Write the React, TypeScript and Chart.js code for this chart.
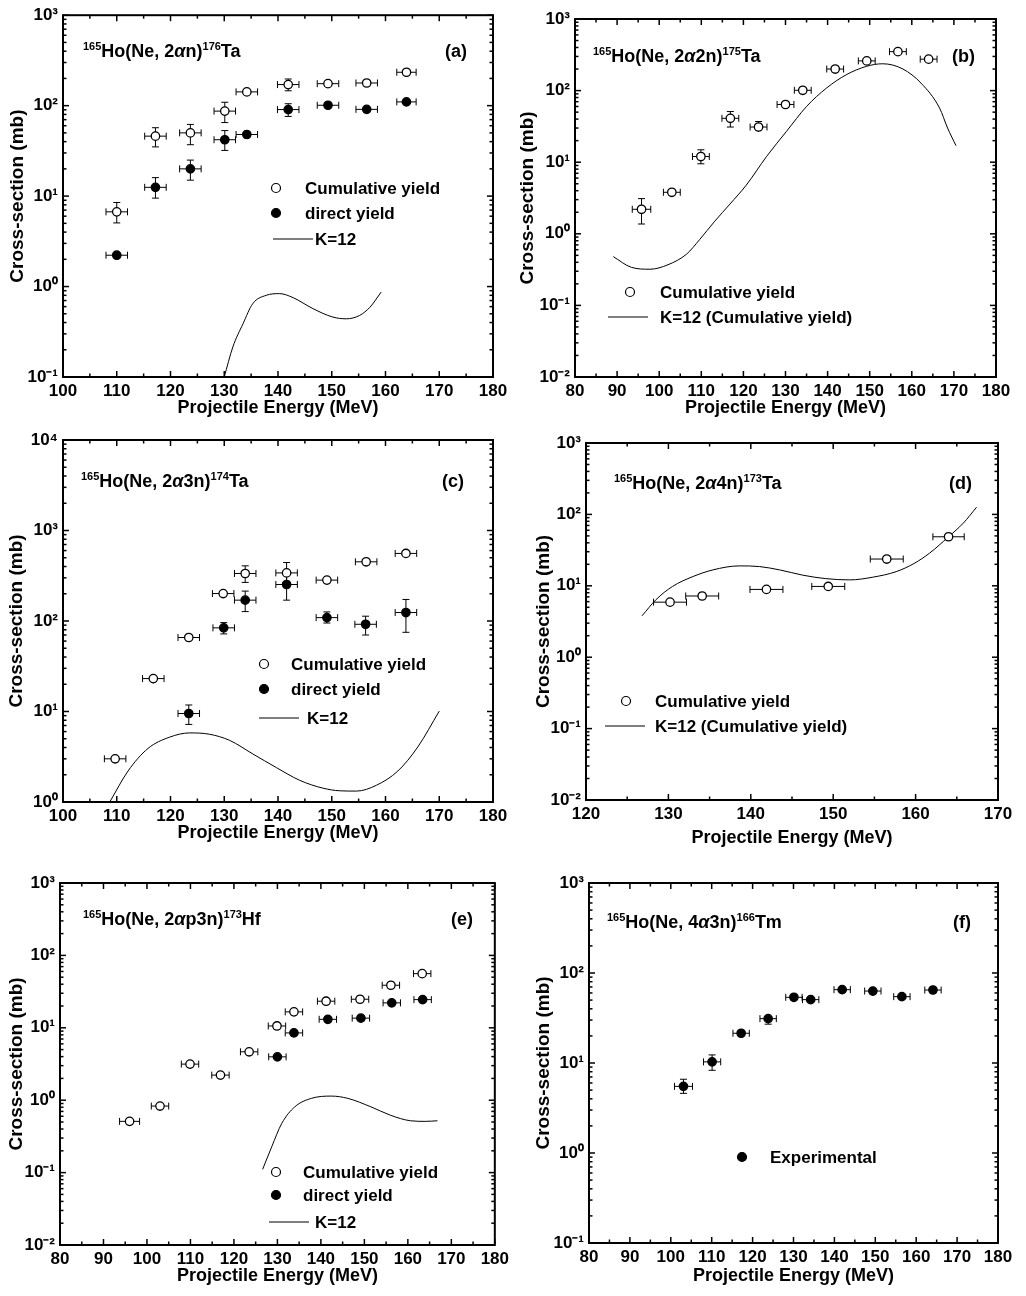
import React, { useEffect, useRef } from 'react';
import { Chart, registerables } from 'chart.js';

Chart.register(...registerables);

const FONT = "'Liberation Sans', Arial, Helvetica, sans-serif";

// ---------------- texts ----------------
const X_TITLE = 'Projectile Energy (MeV)';
const Y_TITLE = 'Cross-section (mb)';
const LBL_CUM = 'Cumulative yield';
const LBL_DIR = 'direct yield';
const LBL_K12 = 'K=12';
const LBL_K12C = 'K=12 (Cumulative yield)';
const LBL_EXP = 'Experimental';

// ---------------- data: panel (a) 165Ho(Ne,2αn)176Ta ----------------
const aCumE = [110, 117.2, 123.7, 130.1, 134.2, 141.9, 149.3, 156.5, 163.9];
const aCumV = [6.7, 46, 50, 87, 142, 171, 175, 178, 234];
const aCumLo = [5.05, 35, 37, 65, 135, 146, 166, 169, 222];
const aCumHi = [8.5, 57, 62, 109, 150, 197, 185, 188, 246];
const aCumXe = [2, 2, 2, 2, 2, 2, 2, 2, 1.8];
const aDirE = [110, 117.2, 123.7, 130.1, 134.2, 141.9, 149.3, 156.5, 163.9];
const aDirV = [2.22, 12.5, 20, 42, 48, 90.5, 101, 91, 110];
const aDirLo = [2.1, 9.5, 15, 32, 45, 76, 95, 85, 104];
const aDirHi = [2.35, 16, 25, 53, 51, 105, 107, 97, 116];
const aDirXe = [2, 2, 2, 2, 2, 2, 2, 2, 1.8];
const aCurveE = [130.0, 131.6, 133.5, 135.3, 137.8, 140.3, 142.8, 146.5, 150.2, 152.7, 155.2, 157.1, 159.2];
const aCurveV = [0.1, 0.215, 0.389, 0.647, 0.8, 0.835, 0.754, 0.57, 0.46, 0.44, 0.48, 0.59, 0.87];

// ---------------- data: panel (b) 165Ho(Ne,2α2n)175Ta ----------------
const bCumE = [95.8, 103.0, 109.9, 116.9, 123.6, 130.0, 134.1, 141.8, 149.3, 156.7, 164.0];
const bCumV = [2.2, 3.8, 12, 41, 31, 64, 101, 200, 260, 350, 275];
const bCumLo = [1.37, 3.4, 9.5, 31, 26.6, 58, 93, 188, 246, 332, 260];
const bCumHi = [3.1, 4.2, 14.9, 51, 37, 71, 110, 212, 275, 370, 290];
const bCumXe = [2.2, 2, 2, 2, 2, 2, 2, 2, 2, 2, 2];
const bCurveE = [89.1, 93.4, 97.8, 102.1, 106.5, 109.6, 113.2, 116.8, 120.7, 125.5, 130.2, 135, 139.7, 144.4, 149.2, 153.1, 157.9, 162.2, 166.6, 168.5, 170.5];
const bCurveV = [0.48, 0.34, 0.32, 0.37, 0.52, 0.83, 1.5, 2.6, 4.8, 12, 26.8, 60, 108, 166, 218, 237, 200, 127, 57, 30, 17];

// ---------------- data: panel (c) 165Ho(Ne,2α3n)174Ta ----------------
const cCumE = [109.7, 116.8, 123.4, 129.8, 133.9, 141.6, 149.1, 156.4, 163.8];
const cCumV = [3.0, 23.1, 65.7, 201, 335, 340, 283, 451, 558];
const cCumLo = [2.7, 20.5, 60, 185, 267, 270, 260, 410, 510];
const cCumHi = [3.3, 25.8, 72, 218, 407, 443, 305, 495, 610];
const cCumXe = [2, 2, 2, 2, 2, 2, 2, 2, 2];
const cDirE = [123.4, 129.9, 133.9, 141.6, 149.1, 156.3, 163.8];
const cDirV = [9.5, 84, 170, 253, 109, 92, 124];
const cDirLo = [7.2, 72, 127, 170, 95, 70, 75];
const cDirHi = [11.8, 96, 214, 340, 126, 113, 173];
const cDirXe = [2, 2, 2, 2, 2, 2, 2];
const cCurveE = [108.7, 112.1, 115.8, 119.8, 123.6, 127.3, 131, 135.3, 139.7, 144, 148.4, 151.5, 154.6, 158.3, 162.3, 166, 170];
const cCurveV = [1.0, 2.2, 3.9, 5.2, 5.8, 5.6, 4.8, 3.4, 2.4, 1.74, 1.42, 1.33, 1.32, 1.53, 2.2, 4.05, 10.1];

// ---------------- data: panel (d) 165Ho(Ne,2α4n)173Ta ----------------
const dCumE = [130.2, 134.1, 141.9, 149.4, 156.5, 164.0];
const dCumV = [5.9, 7.2, 8.9, 9.8, 23.7, 48.6];
const dCumLo = [5.5, 6.7, 8.3, 9.2, 22, 45];
const dCumHi = [6.3, 7.7, 9.5, 10.4, 25.5, 52];
const dCumXe = [2, 2, 2, 2, 2, 1.9];
const dCurveE = [126.8, 128.5, 130.5, 133, 135.4, 138.6, 141.05, 143.5, 146.3, 149.1, 152, 154.8, 157.65, 159.8, 161.7, 164, 165.8, 167.4];
const dCurveV = [3.8, 6.4, 9.8, 13.5, 16.7, 19, 18.6, 16.7, 14.1, 12.6, 12.1, 13.2, 15.8, 20.5, 28.7, 48.6, 75.7, 126];

// ---------------- data: panel (e) 165Ho(Ne,2αp3n)173Hf ----------------
const eCumE = [96.0, 103.0, 109.9, 116.9, 123.5, 129.9, 133.8, 141.2, 149.0, 156.1, 163.3];
const eCumV = [0.51, 0.83, 3.15, 2.22, 4.66, 10.6, 16.6, 23.3, 24.8, 38.7, 56];
const eCumLo = [0.48, 0.78, 2.95, 2.08, 4.38, 9.9, 15.6, 21.9, 23.3, 36.4, 52.6];
const eCumHi = [0.54, 0.88, 3.35, 2.36, 4.94, 11.3, 17.6, 24.7, 26.3, 41, 59.4];
const eCumXe = [2.3, 2, 2, 2, 2, 2, 2, 2, 2, 2, 2];
const eDirE = [130.0, 133.8, 141.6, 149.2, 156.3, 163.4];
const eDirV = [3.97, 8.5, 13.1, 13.6, 22.1, 24.5];
const eDirLo = [3.73, 8.0, 12.3, 12.8, 20.8, 23];
const eDirHi = [4.21, 9.0, 13.9, 14.4, 23.4, 26];
const eDirXe = [2, 2, 2, 2, 2, 2];
const eCurveE = [126.6, 128.7, 131.0, 134.0, 137.8, 142.4, 146.2, 151.5, 156.0, 160.6, 164.0, 166.8];
const eCurveV = [0.111, 0.228, 0.478, 0.81, 1.06, 1.14, 1.06, 0.81, 0.62, 0.52, 0.51, 0.52];

// ---------------- data: panel (f) 165Ho(Ne,4α3n)166Tm ----------------
const fExpE = [103.1, 110.1, 117.2, 123.8, 130.1, 134.2, 141.9, 149.4, 156.5, 164.1];
const fExpV = [5.5, 10.3, 21.4, 31.1, 53.7, 50.6, 65.3, 63, 54.6, 64.7];
const fExpLo = [4.6, 8.3, 19.8, 27, 49, 46.5, 61, 59, 51, 61];
const fExpHi = [6.6, 12.3, 23.2, 34.6, 59, 55, 70, 67, 58.5, 69];
const fExpXe = [2.2, 2.1, 2, 2, 2, 2, 2, 2, 2, 2];

// ---------------- types ----------------
type Seg = { t: string; sup?: boolean; it?: boolean };
type SeriesDef = { label: string; x: number[]; y: number[]; lo: number[]; hi: number[]; xe: number[]; filled: boolean };
type LegendDef = { kind: 'open' | 'filled' | 'line'; label: string };
type PanelDef = {
  xMin: number; xMax: number; yMin: number; yMax: number;
  title: Seg[]; tag: string;
  series: SeriesDef[];
  curve?: { x: number[]; y: number[] };
  legend: LegendDef[];
};
type LayoutDef = {
  cx: number; cy: number; w: number; h: number;
  l: number; t: number; r: number; b: number;
  yTitleX: number; xTitleY: number;
  titleX: number; titleY: number; tagX: number;
  legend: { sx: number; sy: number; tx: number }[];
};

const titleOf = (reac: string[], mass: string, el: string): Seg[] => [
  { t: '165', sup: true },
  { t: 'Ho(Ne, ' + reac[0] },
  { t: '\u03B1', it: true },
  { t: reac[1] + ')' },
  { t: mass, sup: true },
  { t: el },
];

const PANELS: PanelDef[] = [
  {
    xMin: 100, xMax: 180, yMin: 0.1, yMax: 1000,
    title: titleOf(['2', 'n'], '176', 'Ta'), tag: '(a)',
    series: [
      { label: LBL_CUM, x: aCumE, y: aCumV, lo: aCumLo, hi: aCumHi, xe: aCumXe, filled: false },
      { label: LBL_DIR, x: aDirE, y: aDirV, lo: aDirLo, hi: aDirHi, xe: aDirXe, filled: true },
    ],
    curve: { x: aCurveE, y: aCurveV },
    legend: [{ kind: 'open', label: LBL_CUM }, { kind: 'filled', label: LBL_DIR }, { kind: 'line', label: LBL_K12 }],
  },
  {
    xMin: 80, xMax: 180, yMin: 0.01, yMax: 1000,
    title: titleOf(['2', '2n'], '175', 'Ta'), tag: '(b)',
    series: [{ label: LBL_CUM, x: bCumE, y: bCumV, lo: bCumLo, hi: bCumHi, xe: bCumXe, filled: false }],
    curve: { x: bCurveE, y: bCurveV },
    legend: [{ kind: 'open', label: LBL_CUM }, { kind: 'line', label: LBL_K12C }],
  },
  {
    xMin: 100, xMax: 180, yMin: 1, yMax: 10000,
    title: titleOf(['2', '3n'], '174', 'Ta'), tag: '(c)',
    series: [
      { label: LBL_CUM, x: cCumE, y: cCumV, lo: cCumLo, hi: cCumHi, xe: cCumXe, filled: false },
      { label: LBL_DIR, x: cDirE, y: cDirV, lo: cDirLo, hi: cDirHi, xe: cDirXe, filled: true },
    ],
    curve: { x: cCurveE, y: cCurveV },
    legend: [{ kind: 'open', label: LBL_CUM }, { kind: 'filled', label: LBL_DIR }, { kind: 'line', label: LBL_K12 }],
  },
  {
    xMin: 120, xMax: 170, yMin: 0.01, yMax: 1000,
    title: titleOf(['2', '4n'], '173', 'Ta'), tag: '(d)',
    series: [{ label: LBL_CUM, x: dCumE, y: dCumV, lo: dCumLo, hi: dCumHi, xe: dCumXe, filled: false }],
    curve: { x: dCurveE, y: dCurveV },
    legend: [{ kind: 'open', label: LBL_CUM }, { kind: 'line', label: LBL_K12C }],
  },
  {
    xMin: 80, xMax: 180, yMin: 0.01, yMax: 1000,
    title: titleOf(['2', 'p3n'], '173', 'Hf'), tag: '(e)',
    series: [
      { label: LBL_CUM, x: eCumE, y: eCumV, lo: eCumLo, hi: eCumHi, xe: eCumXe, filled: false },
      { label: LBL_DIR, x: eDirE, y: eDirV, lo: eDirLo, hi: eDirHi, xe: eDirXe, filled: true },
    ],
    curve: { x: eCurveE, y: eCurveV },
    legend: [{ kind: 'open', label: LBL_CUM }, { kind: 'filled', label: LBL_DIR }, { kind: 'line', label: LBL_K12 }],
  },
  {
    xMin: 80, xMax: 180, yMin: 0.1, yMax: 1000,
    title: titleOf(['4', '3n'], '166', 'Tm'), tag: '(f)',
    series: [{ label: LBL_EXP, x: fExpE, y: fExpV, lo: fExpLo, hi: fExpHi, xe: fExpXe, filled: true }],
    legend: [{ kind: 'filled', label: LBL_EXP }],
  },
];

// positions (absolute page pixels)
const LAYOUT: LayoutDef[] = [
  { cx: 0, cy: 0, w: 513, h: 420, l: 63, t: 15, r: 493, b: 377, yTitleX: 17.5, xTitleY: 408, titleX: 83, titleY: 57, tagX: 467,
    legend: [{ sx: 276, sy: 188, tx: 305 }, { sx: 276, sy: 213, tx: 305 }, { sx: 273, sy: 239, tx: 315 }] },
  { cx: 513, cy: 0, w: 513, h: 420, l: 575, t: 19, r: 996, b: 377, yTitleX: 528, xTitleY: 408, titleX: 593, titleY: 62, tagX: 975,
    legend: [{ sx: 630, sy: 292, tx: 660 }, { sx: 608, sy: 317, tx: 660 }] },
  { cx: 0, cy: 420, w: 513, h: 430, l: 63, t: 440, r: 493, b: 802, yTitleX: 17, xTitleY: 833, titleX: 81, titleY: 487, tagX: 464,
    legend: [{ sx: 264, sy: 664, tx: 291 }, { sx: 264, sy: 689, tx: 291 }, { sx: 259, sy: 718, tx: 307 }] },
  { cx: 513, cy: 420, w: 513, h: 430, l: 586, t: 443, r: 998, b: 800, yTitleX: 544, xTitleY: 838, titleX: 614, titleY: 489, tagX: 972,
    legend: [{ sx: 626, sy: 701, tx: 655 }, { sx: 605, sy: 726, tx: 655 }] },
  { cx: 0, cy: 850, w: 513, h: 446, l: 60, t: 883, r: 498, b: 1245, yTitleX: 16.5, xTitleY: 1276, titleX: 83, titleY: 925, tagX: 473,
    legend: [{ sx: 276, sy: 1172, tx: 303 }, { sx: 276, sy: 1195, tx: 303 }, { sx: 269, sy: 1222, tx: 315 }] },
  { cx: 513, cy: 850, w: 513, h: 446, l: 589, t: 883, r: 998, b: 1243, yTitleX: 544, xTitleY: 1276, titleX: 607, titleY: 928, tagX: 971,
    legend: [{ sx: 742, sy: 1157, tx: 770 }] },
];

const SUP: Record<string, string> = { '-': '\u207B', '0': '\u2070', '1': '\u00B9', '2': '\u00B2', '3': '\u00B3', '4': '\u2074' };
const decadeLabel = (v: number) =>
  '10' + String(Math.round(Math.log10(v))).split('').map((c) => SUP[c] || c).join('');

function makeDecor(p: PanelDef, L: LayoutDef) {
  return {
    id: 'decor',
    beforeDatasetsDraw(chart: any) {
      const ctx: CanvasRenderingContext2D = chart.ctx;
      const xs = chart.scales.x;
      const ys = chart.scales.y;
      const a = chart.chartArea;
      ctx.save();
      ctx.beginPath();
      ctx.rect(a.left, a.top, a.right - a.left, a.bottom - a.top);
      ctx.clip();
      ctx.strokeStyle = '#000';
      ctx.lineWidth = 1;
      const seg = (x0: number, y0: number, x1: number, y1: number) => {
        ctx.beginPath();
        ctx.moveTo(x0, y0);
        ctx.lineTo(x1, y1);
        ctx.stroke();
      };
      p.series.forEach((s) => {
        s.x.forEach((e, i) => {
          const px = xs.getPixelForValue(e);
          const py = ys.getPixelForValue(s.y[i]);
          const x0 = xs.getPixelForValue(e - s.xe[i]);
          const x1 = xs.getPixelForValue(e + s.xe[i]);
          const yTop = ys.getPixelForValue(s.hi[i]);
          const yBot = ys.getPixelForValue(s.lo[i]);
          seg(x0, py, x1, py);
          seg(x0, py - 3.5, x0, py + 3.5);
          seg(x1, py - 3.5, x1, py + 3.5);
          seg(px, yTop, px, yBot);
          if (py - yTop > 5) seg(px - 3.5, yTop, px + 3.5, yTop);
          if (yBot - py > 5) seg(px - 3.5, yBot, px + 3.5, yBot);
        });
      });
      ctx.restore();
    },
    afterDraw(chart: any) {
      const ctx: CanvasRenderingContext2D = chart.ctx;
      const xs = chart.scales.x;
      const ys = chart.scales.y;
      const a = chart.chartArea;
      ctx.save();
      ctx.strokeStyle = '#000';
      ctx.fillStyle = '#000';
      // inward ticks
      ctx.lineWidth = 1.5;
      const line = (x0: number, y0: number, x1: number, y1: number) => {
        ctx.beginPath();
        ctx.moveTo(x0, y0);
        ctx.lineTo(x1, y1);
        ctx.stroke();
      };
      for (let v = p.xMin; v <= p.xMax + 1e-9; v += 5) {
        const px = xs.getPixelForValue(v);
        const len = Math.round(v) % 10 === 0 ? 6 : 3.5;
        line(px, a.bottom, px, a.bottom - len);
        line(px, a.top, px, a.top + len);
      }
      const d0 = Math.round(Math.log10(p.yMin));
      const d1 = Math.round(Math.log10(p.yMax));
      for (let d = d0; d <= d1; d++) {
        for (let m = 1; m <= 9; m++) {
          if (d === d1 && m > 1) break;
          const py = ys.getPixelForValue(m * Math.pow(10, d));
          const len = m === 1 ? 6 : 3.5;
          line(a.left, py, a.left + len, py);
          line(a.right, py, a.right - len, py);
        }
      }
      // frame
      ctx.lineWidth = 2;
      ctx.strokeRect(a.left, a.top, a.right - a.left, a.bottom - a.top);

      // panel title with superscripts
      let x = L.titleX - L.cx;
      const by = L.titleY - L.cy;
      ctx.textBaseline = 'alphabetic';
      ctx.textAlign = 'left';
      p.title.forEach((s) => {
        if (s.sup) {
          ctx.font = `bold 11px ${FONT}`;
          ctx.fillText(s.t, x, by - 7);
        } else if (s.it) {
          ctx.font = `italic bold 18px ${FONT}`;
          ctx.fillText(s.t, x, by);
        } else {
          ctx.font = `bold 18px ${FONT}`;
          ctx.fillText(s.t, x, by);
        }
        x += ctx.measureText(s.t).width;
      });
      ctx.font = `bold 18px ${FONT}`;
      ctx.textAlign = 'right';
      ctx.fillText(p.tag, L.tagX - L.cx, by);

      // legend
      ctx.textAlign = 'left';
      ctx.textBaseline = 'middle';
      ctx.font = `bold 17px ${FONT}`;
      p.legend.forEach((it, i) => {
        const pos = L.legend[i];
        const sx = pos.sx - L.cx;
        const sy = pos.sy - L.cy;
        if (it.kind === 'line') {
          ctx.lineWidth = 1;
          line(sx, sy, sx + 40, sy);
        } else {
          ctx.beginPath();
          ctx.arc(sx, sy, 4.5, 0, Math.PI * 2);
          ctx.fillStyle = it.kind === 'filled' ? '#000' : '#fff';
          ctx.fill();
          ctx.lineWidth = 1.2;
          ctx.stroke();
          ctx.fillStyle = '#000';
        }
        ctx.fillText(it.label, pos.tx - L.cx, sy + 1);
      });
      ctx.restore();
    },
  };
}

function Panel({ p, L }: { p: PanelDef; L: LayoutDef }) {
  const ref = useRef<HTMLCanvasElement | null>(null);
  useEffect(() => {
    if (!ref.current) return;
    const yw = L.l - L.cx;
    const xh = L.cy + L.h - L.b;
    const decades: number[] = [];
    for (let d = Math.round(Math.log10(p.yMin)); d <= Math.round(Math.log10(p.yMax)); d++) decades.push(Math.pow(10, d));
    const datasets: any[] = p.series.map((s) => ({
      label: s.label,
      data: s.x.map((x, i) => ({ x, y: s.y[i] })),
      pointRadius: 4.2,
      pointHoverRadius: 4.2,
      pointBackgroundColor: s.filled ? '#000' : '#fff',
      pointBorderColor: '#000',
      pointBorderWidth: 1.3,
      showLine: false,
    }));
    if (p.curve) {
      const c = p.curve;
      datasets.push({
        label: 'K=12',
        data: c.x.map((x, i) => ({ x, y: c.y[i] })),
        showLine: true,
        borderColor: '#000',
        borderWidth: 1,
        pointRadius: 0,
        cubicInterpolationMode: 'monotone',
        fill: false,
      });
    }
    const tickFont = { family: FONT, size: 17, weight: 'bold' };
    const chart = new Chart(ref.current, {
      type: 'scatter',
      data: { datasets },
      options: {
        animation: false,
        responsive: false,
        maintainAspectRatio: false,
        devicePixelRatio: 1,
        events: [],
        layout: { padding: { top: L.t - L.cy, right: L.cx + L.w - L.r, left: 0, bottom: 0 } },
        plugins: { legend: { display: false }, tooltip: { enabled: false }, title: { display: false } },
        scales: {
          x: {
            type: 'linear',
            min: p.xMin,
            max: p.xMax,
            grid: { display: false, drawTicks: false },
            border: { display: false },
            ticks: { stepSize: 10, color: '#000', font: tickFont, padding: 4, maxRotation: 0, autoSkip: false },
            title: {
              display: true, text: X_TITLE, color: '#000',
              font: { family: FONT, size: 18, weight: 'bold' },
              padding: { top: 0, bottom: L.cy + L.h - L.xTitleY - 10.8 },
            },
            afterFit: (s: any) => { s.height = xh; },
          },
          y: {
            type: 'logarithmic',
            min: p.yMin,
            max: p.yMax,
            grid: { display: false, drawTicks: false },
            border: { display: false },
            ticks: { color: '#000', font: tickFont, padding: 5, callback: (v: any) => decadeLabel(Number(v)) },
            afterBuildTicks: (s: any) => { s.ticks = decades.map((v) => ({ value: v })); },
            title: {
              display: true, text: Y_TITLE, color: '#000',
              font: { family: FONT, size: 19, weight: 'bold' },
              padding: { top: L.yTitleX - L.cx - 11.4, bottom: 0 },
            },
            afterFit: (s: any) => { s.width = yw; },
          },
        },
      } as any,
      plugins: [makeDecor(p, L) as any],
    });
    return () => chart.destroy();
  }, [p, L]);
  return (
    <canvas
      ref={ref}
      width={L.w}
      height={L.h}
      style={{ position: 'absolute', left: L.cx, top: L.cy, width: L.w, height: L.h }}
    />
  );
}

export default function App() {
  return (
    <div style={{ position: 'absolute', left: 0, top: 0, width: 1026, height: 1296, background: '#fff' }}>
      {PANELS.map((p, i) => (
        <Panel key={i} p={p} L={LAYOUT[i]} />
      ))}
    </div>
  );
}
